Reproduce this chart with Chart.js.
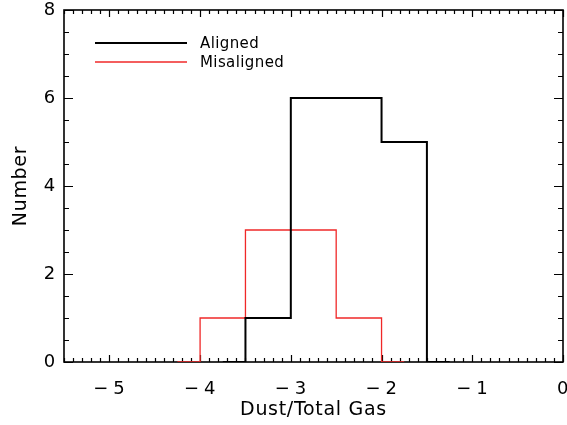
<!DOCTYPE html>
<html>
<head>
<meta charset="utf-8">
<script src="https://cdn.jsdelivr.net/npm/chart.js@4.4.1/dist/chart.umd.min.js"></script>
<style>
  html, body { margin: 0; padding: 0; background: #fff; }
  #wrap { width: 567px; height: 425px; }
</style>
</head>
<body>
<div id="wrap"><canvas id="myChart" width="567" height="425"></canvas></div>
<script>
// bin centres (width 0.5) and counts
const alignedX = [-3.75, -3.25, -2.75, -2.25, -1.75, -1.25];
const alignedN = [0, 1, 6, 6, 5, 0];
const misalignedX = [-4.25, -3.75, -3.25, -2.75, -2.25, -1.75];
const misalignedN = [0, 1, 3, 3, 1, 0];

const xTicks = [-5, -4, -3, -2, -1, 0];
const yTicks = [0, 2, 4, 6, 8];

const FONT = "'DejaVu Sans', sans-serif";

function toPoints(xs, ys) {
    return xs.map((x, i) => ({ x: x, y: ys[i] }));
}

function fmt(v) {
    return v < 0 ? '\u2212\u2009' + Math.abs(v) : String(v);
}

// wide, airy lettering like the IDL vector font
const spacing = {
    id: 'spacing',
    beforeDraw(chart) { chart.ctx.letterSpacing = '0.7px'; }
};

// IDL style inward ticks on all four sides + frame
const frameTicks = {
    id: 'frameTicks',
    beforeDatasetsDraw(chart) {
        const ctx = chart.ctx;
        const a = chart.chartArea;
        const xs = chart.scales.x, ys = chart.scales.y;
        ctx.save();
        ctx.strokeStyle = '#000';
        ctx.lineWidth = 1.2;
        ctx.beginPath();
        for (let i = -55; i <= 0; i++) {
            const px = Math.round(xs.getPixelForValue(i / 10)) + 0.5;
            const len = i % 10 === 0 ? 7 : 4;
            ctx.moveTo(px, a.bottom); ctx.lineTo(px, a.bottom - len);
            ctx.moveTo(px, a.top); ctx.lineTo(px, a.top + len);
        }
        for (let i = 0; i <= 16; i++) {
            const py = Math.round(ys.getPixelForValue(i / 2)) + 0.5;
            const len = i % 4 === 0 ? 9 : 5;
            ctx.moveTo(a.left, py); ctx.lineTo(a.left + len, py);
            ctx.moveTo(a.right, py); ctx.lineTo(a.right - len, py);
        }
        ctx.stroke();
        ctx.lineWidth = 1.6;
        ctx.strokeRect(a.left, a.top, a.right - a.left, a.bottom - a.top);
        ctx.restore();
    }
};

// legend inside the plot, top left
const innerLegend = {
    id: 'innerLegend',
    afterDraw(chart) {
        const ctx = chart.ctx;
        ctx.save();
        ctx.font = '15px ' + FONT;
        ctx.letterSpacing = '0.4px';
        ctx.textBaseline = 'middle';
        chart.data.datasets.forEach((ds, i) => {
            const y = 43 + i * 19;
            ctx.strokeStyle = ds.borderColor;
            ctx.lineWidth = ds.borderWidth;
            ctx.beginPath();
            ctx.moveTo(95, y); ctx.lineTo(187, y);
            ctx.stroke();
            ctx.fillStyle = '#000';
            ctx.fillText(ds.label, 200, y + 1);
        });
        ctx.restore();
    }
};

const config = {
    type: 'line',
    data: {
        datasets: [{
            label: 'Aligned',
            data: toPoints(alignedX, alignedN),
            borderColor: '#000000',
            borderWidth: 2,
            stepped: 'middle',
            pointRadius: 0,
            fill: false
        }, {
            label: 'Misaligned',
            data: toPoints(misalignedX, misalignedN),
            borderColor: '#f02828',
            borderWidth: 1.3,
            stepped: 'middle',
            pointRadius: 0,
            fill: false
        }]
    },
    options: {
        responsive: false,
        animation: false,
        layout: { padding: { left: 4, right: 4, top: 10, bottom: 0 } },
        plugins: { legend: { display: false }, tooltip: { enabled: false } },
        scales: {
            x: {
                type: 'linear',
                min: -5.5,
                max: 0,
                afterBuildTicks: s => { s.ticks = xTicks.map(v => ({ value: v })); },
                afterFit: s => { s.height = 63; s.paddingLeft = 0; s.paddingRight = 0; },
                grid: { display: false, drawTicks: false },
                border: { display: false },
                ticks: {
                    padding: 17,
                    color: '#000',
                    font: { family: FONT, size: 18 },
                    maxRotation: 0,
                    callback: v => fmt(v)
                },
                title: {
                    display: true,
                    text: 'Dust/Total Gas',
                    color: '#000',
                    font: { family: FONT, size: 19 },
                    padding: { top: 2, bottom: 4 }
                }
            },
            y: {
                min: 0,
                max: 8,
                afterBuildTicks: s => { s.ticks = yTicks.map(v => ({ value: v })); },
                afterFit: s => { s.width = 60; s.paddingTop = 0; s.paddingBottom = 0; },
                grid: { display: false, drawTicks: false },
                border: { display: false },
                ticks: {
                    padding: 8,
                    color: '#000',
                    font: { family: FONT, size: 18 },
                    callback: v => fmt(v)
                },
                title: {
                    display: true,
                    text: 'Number',
                    color: '#000',
                    font: { family: FONT, size: 19 },
                    padding: { top: 6, bottom: 0 }
                }
            }
        }
    },
    plugins: [spacing, frameTicks, innerLegend]
};

var myChart = new Chart(document.getElementById('myChart'), config);
</script>
</body>
</html>
